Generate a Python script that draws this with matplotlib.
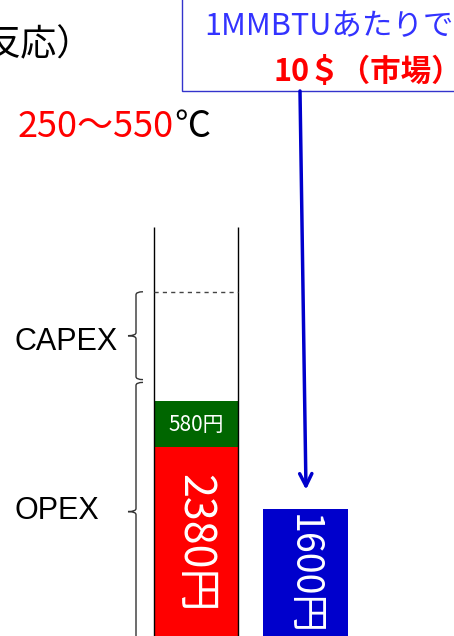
import matplotlib
matplotlib.use('Agg')
import matplotlib.pyplot as plt
import matplotlib.patches as mpatches
from matplotlib.path import Path

plt.rcParams['font.family'] = ['Noto Sans CJK JP', 'DejaVu Sans']

# Cost per MMBTU (yen)
stackLabels = ['2380円', '580円']
stackValues = [2380, 580]
stackColours = ['#ff0000', '#006600']
marketLabel = '1600円'
marketValue = 1600
capexRange = [3225, 4330]    # brace span for CAPEX
opexRange = [-60, 3190]      # brace span for OPEX
columnTop = 5140

W, H = 454, 636
fig = plt.figure(figsize=(W / 100, H / 100), dpi=100)
ax = fig.add_axes([0, 0, 1, 1])
ax.set_xlim(0, W)
ax.set_ylim(0, 8000)
ax.axis('off')

# layout
colX, colW = 196, 84
mktX, mktW = 305, 85
braceX = 136
narrow = ['Liberation Sans Narrow', 'Noto Sans CJK JP']


def at(x, y):
    """pixel position (from top left) -> axes fraction"""
    return x / W, 1 - y / H


# stacked column (OPEX)
bottom = 0
for lab, val, c in zip(stackLabels, stackValues, stackColours):
    ax.bar(colX, val, width=colW, bottom=bottom, color=c, linewidth=0)
    bottom += val
ax.text(colX - 2, stackValues[0] / 2 - 20, stackLabels[0], color='white', fontsize=31,
        rotation=-90, ha='center', va='center', family=narrow)
ax.text(colX, stackValues[0] + stackValues[1] / 2 - 20, stackLabels[1], color='white', fontsize=15,
        ha='center', va='center')

# market price bar
ax.bar(mktX, marketValue, width=mktW, color='#0000cc', linewidth=0)
ax.text(mktX - 2, marketValue / 2 - 30, marketLabel, color='white', fontsize=27,
        rotation=-90, ha='center', va='center', family=narrow)

# column outline and CAPEX top
ax.vlines([colX - colW / 2, colX + colW / 2], 0, columnTop, color='black', lw=1)
ax.hlines(capexRange[1], colX - colW / 2, colX + colW / 2, color='#444444', lw=1,
          linestyles=(0, (3, 3)))


def brace(x, y0, y1, tip=7, nose=8, r=38):
    ym = (y0 + y1) / 2
    verts = [(x + tip, y1), (x, y1), (x, y1 - r), (x, ym + r), (x, ym), (x - nose, ym),
             (x, ym), (x, ym - r), (x, y0 + r), (x, y0), (x + tip, y0)]
    codes = [Path.MOVETO, Path.CURVE3, Path.CURVE3, Path.LINETO, Path.CURVE3, Path.CURVE3,
             Path.CURVE3, Path.CURVE3, Path.LINETO, Path.CURVE3, Path.CURVE3]
    ax.add_patch(mpatches.PathPatch(Path(verts, codes), fill=False, edgecolor='#333333', lw=1))


brace(braceX, *capexRange)
brace(braceX, *opexRange)
ax.text(*at(15, 342), 'CAPEX', fontsize=22, ha='left', va='center',
        family=['Liberation Sans', 'DejaVu Sans'], transform=ax.transAxes)
ax.text(*at(15, 511), 'OPEX', fontsize=22, ha='left', va='center',
        family=['Liberation Sans', 'DejaVu Sans'], transform=ax.transAxes)

# top texts
ax.text(*at(-16, 45), '反応）', fontsize=26, ha='left', va='center', transform=ax.transAxes)
t = ax.text(*at(18, 127), '250～550', fontsize=26, color='#ff0000', ha='left', va='center',
            transform=ax.transAxes)
ax.annotate('℃', xy=(1, 0), xycoords=t, ha='left', va='bottom', fontsize=26, color='black')

# market price box + arrow
ax.add_patch(mpatches.Rectangle((182, 6855), 400, 3000, facecolor='white',
                                edgecolor='#3333cc', lw=1))
ax.text(*at(204, 27), '1MMBTUあたりで', fontsize=22, color='#3333ff', ha='left', va='center',
        transform=ax.transAxes)
ax.text(*at(274, 72), '10＄（市場）', fontsize=22, color='#ff0000', weight='bold',
        ha='left', va='center', transform=ax.transAxes)
ax.annotate('', xy=(mktX + 1, marketValue + 240), xytext=at(300, 91), textcoords='axes fraction',
            arrowprops=dict(arrowstyle='->', color='#0000cc', lw=2.5, mutation_scale=22,
                            shrinkA=0, shrinkB=0))

fig.savefig('out.png', dpi=100)
